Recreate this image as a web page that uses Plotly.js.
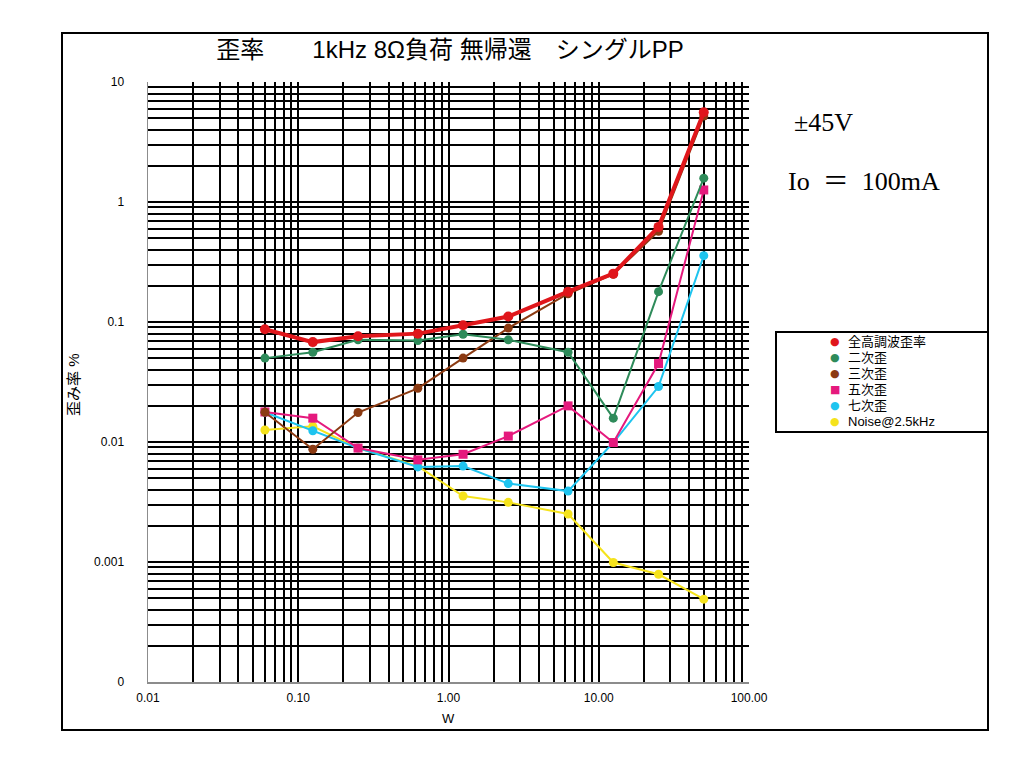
<!DOCTYPE html>
<html>
<head>
<meta charset="utf-8">
<script src="https://cdn.plot.ly/plotly-3.0.1.min.js"></script>
<style>
  html, body { margin: 0; padding: 0; background: #fff; }
  #chart { width: 1024px; height: 776px; }
</style>
</head>
<body>
<div id="chart"></div>
<script>
// output power (W)
const power = [0.06, 0.125, 0.25, 0.625, 1.25, 2.5, 6.25, 12.5, 25, 50];

// distortion (%)
const thd    = [0.087, 0.068, 0.076, 0.080, 0.094, 0.111, 0.179, 0.253, 0.62, 5.6];
const h2     = [0.050, 0.056, 0.071, 0.070, 0.079, 0.071, 0.056, 0.0158, 0.179, 1.58];
const h3     = [0.0177, 0.0087, 0.0176, 0.028, 0.050, 0.089, 0.172, 0.25, 0.57, 5.2];
const h5     = [0.0178, 0.0158, 0.0089, 0.0071, 0.0079, 0.0112, 0.020, 0.0099, 0.045, 1.26];
const h7     = [0.0177, 0.0124, 0.0089, 0.0062, 0.0063, 0.0045, 0.0039, 0.0099, 0.029, 0.357];
const noise  = [0.0126, 0.0135, 0.0089, 0.0063, 0.00355, 0.00314, 0.00251, 0.00099, 0.00079, 0.00049];

const seriesNames = ['全高調波歪率', '二次歪', '三次歪', '五次歪', '七次歪', 'Noise@2.5kHz'];

const xTickVals = [0.01, 0.1, 1, 10, 100];
const xTickText = ['0.01', '0.10', '1.00', '10.00', '100.00'];
const yTickVals = [0.0001, 0.001, 0.01, 0.1, 1, 10];
const yTickText = ['0', '0.001', '0.01', '0.1', '1', '10'];

const FONT = 'Liberation Sans, Arial, Noto Sans CJK JP, sans-serif';

// plot area in pixels, used to place things outside it
const PL = 148, PR = 749, PT = 82, PB = 682;
const px = x => (x - PL) / (PR - PL);
const py = y => (PB - y) / (PB - PT);

const styles = [
    { color: '#e0161b', width: 4, size: 10, symbol: 'circle', glyph: '●' },
    { color: '#2e8b5a', width: 2, size: 9, symbol: 'circle', glyph: '●' },
    { color: '#8b3a12', width: 2, size: 9, symbol: 'circle', glyph: '●' },
    { color: '#e5197d', width: 2, size: 9, symbol: 'square', glyph: '■' },
    { color: '#1ec4ef', width: 2, size: 9, symbol: 'circle', glyph: '●' },
    { color: '#f5e31c', width: 2, size: 9, symbol: 'circle', glyph: '●' }
];

const values = [thd, h2, h3, h5, h7, noise];

// draw noise first, THD last so it sits on top
const traces = [];
for (let i = values.length - 1; i >= 0; i--) {
    const s = styles[i];
    traces.push({
        x: power,
        y: values[i],
        type: 'scatter',
        mode: 'lines+markers',
        name: seriesNames[i],
        line: { color: s.color, width: s.width },
        marker: { color: s.color, size: s.size, symbol: s.symbol },
        hoverinfo: 'skip'
    });
}

const annotations = [
    {
        text: '歪み率 %', textangle: -90,
        xref: 'paper', yref: 'paper', x: px(73), y: py(385),
        xanchor: 'center', yanchor: 'middle', showarrow: false,
        font: { family: FONT, size: 15, color: '#000' }
    },
    {
        text: 'W',
        xref: 'paper', yref: 'paper', x: px(448), y: py(718),
        xanchor: 'center', yanchor: 'middle', showarrow: false,
        font: { family: FONT, size: 13, color: '#000' }
    },
    {
        text: '±45V',
        xref: 'paper', yref: 'paper', x: px(792), y: py(122),
        xanchor: 'left', yanchor: 'middle', showarrow: false,
        font: { family: 'Liberation Serif, Times New Roman, serif', size: 26, color: '#000' }
    },
    {
        text: 'Io&nbsp;&nbsp;\uFF1D&nbsp;&nbsp;100mA',
        xref: 'paper', yref: 'paper', x: px(786), y: py(181),
        xanchor: 'left', yanchor: 'middle', showarrow: false,
        font: { family: 'Liberation Serif, Noto Sans CJK JP, serif', size: 26, color: '#000' }
    }
];

// hand-made legend so rows match the original spacing
for (let i = 0; i < seriesNames.length; i++) {
    const yc = 341.7 + i * 15.9;
    annotations.push({
        text: styles[i].glyph,
        xref: 'paper', yref: 'paper', x: px(835), y: py(yc),
        xanchor: 'center', yanchor: 'middle', showarrow: false,
        font: { family: 'DejaVu Sans', size: 11, color: styles[i].color }
    });
    annotations.push({
        text: seriesNames[i],
        xref: 'paper', yref: 'paper', x: px(846), y: py(yc),
        xanchor: 'left', yanchor: 'middle', showarrow: false,
        font: { family: FONT, size: 13, color: '#000' }
    });
}

const layout = {
    width: 1024,
    height: 776,
    margin: { l: PL, r: 1024 - PR, t: PT, b: 776 - PB },
    paper_bgcolor: 'white',
    plot_bgcolor: 'white',
    showlegend: false,
    font: { family: FONT, size: 12, color: '#000' },
    title: {
        text: '歪率\u3000\u30001kHz 8Ω負荷 無帰還\u3000シングルPP',
        xref: 'paper', x: px(450), xanchor: 'center',
        yref: 'container', y: 1 - 50 / 776, yanchor: 'middle',
        font: { family: FONT, size: 24, color: '#000' }
    },
    xaxis: {
        type: 'log',
        range: [-2, 2],
        tickmode: 'array',
        tickvals: xTickVals,
        ticktext: xTickText,
        ticks: '',
        ticklabelstandoff: 4,
        tickfont: { size: 12 },
        showgrid: true,
        gridcolor: '#000',
        gridwidth: 2,
        minor: { dtick: 'D1', showgrid: true, gridcolor: '#000', gridwidth: 2 },
        showline: true,
        linecolor: '#8c8c8c',
        linewidth: 1.5,
        zeroline: false,
        fixedrange: true
    },
    yaxis: {
        type: 'log',
        range: [-4, 1],
        tickmode: 'array',
        tickvals: yTickVals,
        ticktext: yTickText,
        ticks: '',
        ticklabelstandoff: 20,
        tickfont: { size: 12 },
        showgrid: true,
        gridcolor: '#000',
        gridwidth: 2,
        minor: { dtick: 'D1', showgrid: true, gridcolor: '#000', gridwidth: 2 },
        showline: true,
        linecolor: '#8c8c8c',
        linewidth: 1.5,
        zeroline: false,
        fixedrange: true
    },
    shapes: [
        // frame around the whole chart
        {
            type: 'rect', xref: 'paper', yref: 'paper',
            x0: px(62), x1: px(988), y0: py(730), y1: py(33),
            line: { color: '#000', width: 2 }, fillcolor: 'rgba(0,0,0,0)'
        },
        // legend box
        {
            type: 'rect', xref: 'paper', yref: 'paper',
            x0: px(776), x1: px(988), y0: py(432), y1: py(332),
            line: { color: '#000', width: 2 }, fillcolor: 'rgba(0,0,0,0)'
        }
    ],
    annotations: annotations
};

Plotly.newPlot('chart', traces, layout, { displayModeBar: false, staticPlot: true });
</script>
</body>
</html>
